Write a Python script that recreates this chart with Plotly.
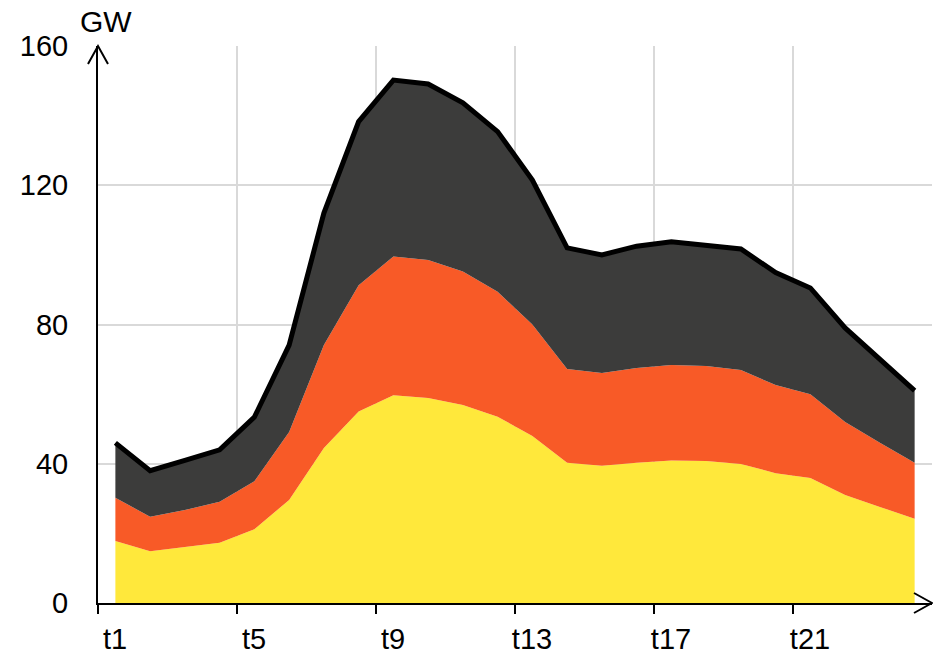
import plotly.graph_objects as go

categories = [f"t{i}" for i in range(1, 25)]
tick_labels = ["t1", "t5", "t9", "t13", "t17", "t21"]

yellow = [17.8, 14.9, 16.1, 17.3, 21.2, 29.6, 44.5, 55.0, 59.7, 58.9, 56.9, 53.5,
          48.0, 40.3, 39.4, 40.3, 40.9, 40.8, 39.9, 37.3, 35.9, 31.0, 27.6, 24.2]
orange = [12.4, 9.9, 10.6, 11.8, 13.8, 19.5, 29.6, 36.3, 39.8, 39.6, 38.3, 35.9,
          32.0, 26.9, 26.7, 27.2, 27.5, 27.3, 27.0, 25.3, 24.1, 21.0, 18.4, 16.1]
dark = [15.8, 13.2, 14.3, 14.9, 18.4, 25.0, 37.9, 47.0, 50.7, 50.6, 48.5, 46.0,
        41.5, 34.8, 33.9, 35.0, 35.4, 34.7, 34.8, 32.3, 30.5, 27.0, 24.0, 20.7]

y_ticks = [0, 40, 80, 120, 160]

# category positions: each category occupies one unit band, centred at i + 0.5
n = len(categories)
x_pos = [i + 0.5 for i in range(n)]
# tick marks / grid lines on the left boundary of each labelled category
tick_pos = [categories.index(t) for t in tick_labels]

FONT = "Liberation Sans, Arial, sans-serif"
FS = 29

fig = go.Figure()
fig.add_trace(go.Scatter(x=x_pos, y=yellow, stackgroup="s", mode="lines",
                         line=dict(width=0, color="#9BD35A"), fillcolor="#FFE83B",
                         name="yellow", showlegend=False, hoverinfo="skip"))
fig.add_trace(go.Scatter(x=x_pos, y=orange, stackgroup="s", mode="lines",
                         line=dict(width=0, color="#F85A27"), fillcolor="#F85A27",
                         name="orange", showlegend=False, hoverinfo="skip"))
fig.add_trace(go.Scatter(x=x_pos, y=dark, stackgroup="s", mode="lines",
                         line=dict(width=5, color="#000000"), fillcolor="#3C3C3B",
                         name="dark", showlegend=False, hoverinfo="skip"))

# page body has an 8px margin, so the figure is sized to fit inside the window
fig.update_layout(
    width=933, height=648,
    margin=dict(l=90, r=9, t=38, b=53),
    plot_bgcolor="white", paper_bgcolor="white",
    font=dict(family=FONT, size=FS, color="black"),
    showlegend=False,
    xaxis=dict(
        range=[0, n], automargin=False,
        tickmode="array", tickvals=tick_pos, ticktext=tick_labels,
        tickangle=0, ticklabelshift=17, ticklabelstandoff=0,
        ticks="outside", ticklen=9, tickwidth=2, tickcolor="black",
        showline=True, linecolor="black", linewidth=2,
        showgrid=True, gridcolor="#D9D9D9", gridwidth=1.5,
        minor=dict(tickmode="array", tickvals=[n], ticks="", showgrid=True,
                   gridcolor="#D9D9D9", gridwidth=1.5),
        zeroline=False, tickfont=dict(size=FS), layer="above traces",
    ),
    yaxis=dict(
        range=[0, 160], tickvals=y_ticks, automargin=False,
        ticks="", ticklabelstandoff=22,
        showline=True, linecolor="black", linewidth=2,
        showgrid=True, gridcolor="#D9D9D9", gridwidth=1.5,
        zeroline=False, tickfont=dict(size=FS),
    ),
    annotations=[dict(text="GW", xref="paper", yref="paper", x=0.0096, y=1,
                      xanchor="center", yanchor="bottom", yshift=6, showarrow=False,
                      font=dict(size=FS + 1))],
    shapes=[
        dict(type="path", xref="paper", yref="paper", xsizemode="pixel", ysizemode="pixel",
             xanchor=1, yanchor=0, path="M -18,10 L 0,0 L -18,-10",
             line=dict(color="black", width=2)),
        dict(type="path", xref="paper", yref="paper", xsizemode="pixel", ysizemode="pixel",
             xanchor=0, yanchor=1, path="M -10,-18 L 0,0 L 10,-18",
             line=dict(color="black", width=2)),
    ],
)

fig.write_html("out.html")
